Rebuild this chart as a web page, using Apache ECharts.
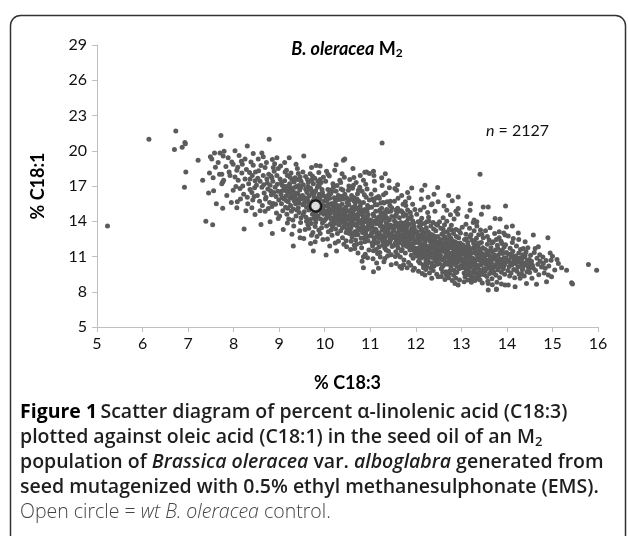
<!DOCTYPE html>
<html>
<head>
<meta charset="utf-8">
<script src="https://cdn.jsdelivr.net/npm/echarts@6/dist/echarts.min.js"></script>
<style>
  html, body { margin: 0; padding: 0; background: #fff; }
  #chart { width: 628px; height: 536px; }
</style>
</head>
<body>
<div id="chart"></div>
<script>
// % C18:3 (x) vs % C18:1 (y)
var stripLow = [
  [5.23,13.6],[6.14,20.97],[6.73,21.68],[6.70,20.1],[6.87,20.3],[6.93,20.7],[6.94,20.6],[6.95,18.2],[6.92,16.9],
  [7.22,19.2],[7.32,17.5],[7.47,18.1],[7.55,17.7],[7.56,16.6],[7.49,19.5],[7.52,19.3],[7.58,19.8],[7.66,19.0],
  [7.70,19.8],[7.79,19.95],[7.77,19.55],[7.83,18.65],[7.90,18.2],[7.69,18.0],[7.74,18.0],[7.76,17.35],[7.78,17.5],
  [7.74,17.2],[7.72,21.3],[7.39,14.0],[7.54,13.7],[7.76,15.1],[7.96,19.05],[7.99,18.85],[7.99,16.64],[7.62,15.5],
  [7.85,16.2],[7.92,17.9],[7.6,18.6],[7.88,19.4],[7.95,15.6],[7.45,16.4]
];
var strip8 = [
  [8.03,20.0],[8.30,20.4],[8.43,19.76],[8.25,19.3],[8.19,18.85],[8.43,18.76],[8.07,18.34],[8.03,17.77],[8.10,17.5],
  [8.25,17.6],[8.36,17.6],[8.14,16.78],[8.36,16.7],[8.08,15.65],[8.07,15.14],[8.4,15.14],[8.47,14.57],[8.23,13.33],
  [8.12,19.6],[8.18,18.1],[8.28,18.4],[8.33,17.2],[8.41,17.9],[8.05,16.95],[8.22,16.3],[8.45,16.1],[8.15,15.9],
  [8.31,15.5],[8.48,18.2],[8.38,19.05],[8.2,17.0],[8.46,16.85],[8.27,14.9],[8.42,15.8],[8.09,18.6],[8.35,18.15],
  [8.47,17.45],[8.17,19.1],[8.4,16.45],[8.3,16.05],
  [8.78,20.97],[8.62,19.8],[8.65,19.5],[8.54,19.3],[8.85,19.25],[8.69,18.57],[8.87,18.57],[8.65,17.9],[8.73,17.6],
  [8.84,17.7],[8.95,17.9],[8.5,17.06],[8.8,17.06],[8.6,13.72],[8.85,12.96],[8.69,14.86],[8.98,14.24],[8.8,13.95],
  [8.87,15.51],[8.76,15.08],[8.55,18.3],[8.58,17.4],[8.62,16.9],[8.67,16.4],[8.71,16.05],[8.74,17.25],[8.77,18.0],
  [8.81,16.6],[8.83,16.25],[8.86,17.4],[8.89,18.25],[8.91,16.9],[8.93,16.1],[8.96,17.15],[8.99,15.8],[8.52,16.2],
  [8.57,15.7],[8.63,15.35],[8.7,15.9],[8.75,16.75],[8.79,15.6],[8.84,15.25],[8.88,16.45],[8.92,15.45],[8.97,16.55],
  [8.6,18.75],[8.72,19.0],[8.9,18.9],[8.95,19.4],[8.53,17.65],[8.66,17.1],[8.82,17.85],[8.94,14.7],[8.58,14.9],[8.98,18.5]
];
var strip9 = [
  [9.22,19.4],[9.16,18.34],[9.13,18.2],[9.42,18.06],[9.46,17.77],[9.13,16.78],[9.35,16.9],[9.31,11.9],[9.46,12.59],
  [9.02,17.6],[9.04,16.3],[9.05,15.5],[9.07,17.05],[9.08,14.9],[9.1,16.7],[9.11,15.9],[9.12,17.45],[9.14,15.2],
  [9.15,16.15],[9.17,14.6],[9.18,17.9],[9.19,16.45],[9.2,15.65],[9.21,14.2],[9.23,17.2],[9.24,16.0],[9.25,15.35],
  [9.26,16.85],[9.27,14.85],[9.28,17.55],[9.29,15.95],[9.3,16.55],[9.31,15.05],[9.32,13.6],[9.33,17.35],[9.34,16.2],
  [9.36,15.5],[9.37,14.45],[9.38,16.95],[9.39,15.8],[9.4,18.5],[9.41,16.35],[9.42,15.15],[9.43,17.05],[9.44,14.75],
  [9.45,16.65],[9.46,15.9],[9.47,13.9],[9.48,17.4],[9.49,16.1],[9.03,18.7],[9.09,13.3],[9.16,15.75],[9.22,16.6],
  [9.26,18.1],[9.3,14.1],[9.35,17.7],[9.39,14.95],[9.44,15.55],[9.06,16.0],[9.13,16.95],[9.19,15.1],[9.24,17.75],
  [9.33,15.75],[9.41,17.55],[9.48,14.3],[9.12,19.0],[9.37,18.85],[9.28,12.9],[9.45,13.2],[9.01,14.45],[9.18,13.85],
  [9.36,16.4],[9.47,16.85],[9.21,16.95],[9.05,17.3],
  [9.54,19.55],[9.71,18.57],[9.81,18.74],[9.9,18.7],[9.71,17.5],[9.9,17.55],[9.6,16.64],[9.86,17.06],[9.54,12.53],
  [9.71,12.81],[9.79,12.25],[9.75,11.46],[9.51,16.2],[9.52,15.4],[9.53,17.1],[9.55,14.8],[9.56,16.0],[9.57,15.65],
  [9.58,17.8],[9.59,14.35],[9.6,15.2],[9.61,16.45],[9.62,15.85],[9.63,13.7],[9.64,17.3],[9.65,14.95],[9.66,16.15],
  [9.67,15.45],[9.68,14.15],[9.69,16.8],[9.7,15.05],[9.72,16.35],[9.73,14.6],[9.74,15.75],[9.75,17.2],[9.76,14.25],
  [9.77,16.05],[9.78,15.35],[9.79,13.55],[9.8,16.6],[9.82,14.85],[9.83,15.95],[9.84,16.9],[9.85,14.45],[9.86,15.6],
  [9.87,13.25],[9.88,16.3],[9.89,14.95],[9.9,15.85],[9.91,14.2],[9.92,17.3],[9.93,15.4],[9.94,16.7],[9.95,13.85],
  [9.96,15.1],[9.97,16.2],[9.98,14.6],[9.99,15.7],[9.52,18.2],[9.57,13.3],[9.63,16.95],[9.68,18.05],[9.74,13.05],
  [9.78,17.65],[9.83,12.7],[9.87,18.15],[9.93,13.45],[9.97,17.75],[9.55,15.9],[9.6,14.0],[9.66,15.6],[9.71,16.6],
  [9.76,15.0],[9.81,14.15],[9.85,17.4],[9.9,12.95],[9.95,16.45],[9.99,14.05],[9.53,14.55],[9.62,17.55],[9.7,13.8],
  [9.77,16.4],[9.84,15.25],[9.92,14.7],[9.58,16.75],[9.65,13.4],[9.73,17.85],[9.8,13.9],[9.88,17.0],[9.96,12.45],[9.69,12.1]
];
var strip10 = [
  [10.04,18.25],[10.25,18.8],[10.44,19.3],[10.41,19.2],[10.33,17.5],[10.12,16.64],[10.03,11.12],[10.26,11.46],[10.48,11.82],
  [10.01,15.3],[10.02,14.2],[10.03,16.1],[10.04,13.6],[10.05,15.75],[10.06,14.85],[10.07,16.7],[10.08,13.1],[10.09,15.05],
  [10.1,14.45],[10.11,15.95],[10.12,13.75],[10.13,16.35],[10.14,14.9],[10.15,15.5],[10.16,12.8],[10.17,14.25],[10.18,17.2],
  [10.19,15.2],[10.2,13.95],[10.21,16.0],[10.22,14.6],[10.23,15.65],[10.24,13.35],[10.25,16.55],[10.26,14.1],[10.27,15.35],
  [10.28,12.95],[10.29,14.75],[10.3,16.2],[10.31,13.7],[10.32,15.0],[10.33,14.35],[10.34,15.85],[10.35,13.2],[10.36,16.75],
  [10.37,14.6],[10.38,15.45],[10.39,12.6],[10.4,14.05],[10.41,15.9],[10.42,13.55],[10.43,14.95],[10.44,16.3],[10.45,13.9],
  [10.46,15.2],[10.47,12.35],[10.48,14.4],[10.49,15.6],[10.02,17.4],[10.06,12.5],[10.1,17.85],[10.14,13.25],[10.19,16.9],
  [10.23,12.15],[10.27,17.05],[10.31,14.55],[10.35,17.3],[10.39,13.45],[10.43,17.75],[10.47,13.05],[10.05,14.55],[10.09,16.3],
  [10.13,15.45],[10.17,13.55],[10.21,14.85],[10.25,15.1],[10.29,16.05],[10.33,13.85],[10.37,16.1],[10.41,14.3],[10.45,14.7],
  [10.49,13.3],[10.03,15.9],[10.08,15.4],[10.12,14.7],[10.16,16.55],[10.2,15.55],[10.24,14.4],[10.28,15.85],[10.32,14.15],
  [10.36,15.05],[10.4,16.65],[10.44,14.6],[10.48,16.0],[10.11,11.9],[10.3,12.3],[10.42,12.05],[10.07,18.0],[10.22,18.35],[10.38,18.05],
  [10.55,17.55],[10.64,17.72],[10.52,16.64],[10.63,17.06],[10.74,16.64],[10.88,18.17],[10.98,18.06],[10.92,18.2],[10.66,11.69],
  [10.85,10.04],[10.85,10.97],[10.51,14.9],[10.52,13.65],[10.53,15.4],[10.54,12.95],[10.55,14.3],[10.56,15.85],[10.57,13.4],
  [10.58,14.75],[10.59,16.2],[10.6,12.65],[10.61,14.05],[10.62,15.2],[10.63,13.7],[10.64,14.55],[10.65,16.0],[10.66,13.1],
  [10.67,15.55],[10.68,12.4],[10.69,14.2],[10.7,15.05],[10.71,13.55],[10.72,16.35],[10.73,12.85],[10.74,14.65],[10.75,15.7],
  [10.76,13.25],[10.77,14.0],[10.78,15.3],[10.79,12.15],[10.8,13.8],[10.81,14.95],[10.82,16.55],[10.83,13.05],[10.84,14.45],
  [10.85,15.6],[10.86,12.6],[10.87,13.95],[10.88,15.0],[10.89,14.3],[10.9,12.9],[10.91,16.05],[10.92,13.45],[10.93,14.8],
  [10.94,15.35],[10.95,12.35],[10.96,14.15],[10.97,13.6],[10.98,15.8],[10.99,12.75],[10.53,17.0],[10.57,11.6],[10.61,16.8],
  [10.65,11.95],[10.69,17.3],[10.73,11.3],[10.77,16.9],[10.81,11.75],[10.85,17.5],[10.89,11.2],[10.93,16.75],[10.97,11.55],
  [10.55,13.1],[10.59,15.05],[10.63,14.25],[10.67,12.85],[10.71,15.9],[10.75,14.05],[10.79,15.55],[10.83,14.7],[10.87,16.25],
  [10.91,13.2],[10.95,14.55],[10.99,13.95],[10.52,15.7],[10.56,14.55],[10.6,13.9],[10.64,15.75],[10.68,15.2],[10.72,13.85],
  [10.76,15.0],[10.8,12.55],[10.84,13.6],[10.88,12.25],[10.92,14.4],[10.96,15.15],[10.58,12.3],[10.7,12.05],[10.82,10.6],
  [10.94,10.9],[10.62,18.5],[10.78,17.9],[10.9,17.15]
];
var strip11 = [
  [11.26,20.66],[11.07,18.25],[11.08,17.9],[11.07,9.7],[11.18,9.99],[11.32,10.84],
  [11.01,14.1],[11.02,12.85],[11.03,15.2],[11.04,13.5],[11.05,11.9],[11.06,14.6],[11.07,13.15],[11.08,15.75],[11.09,12.4],
  [11.1,14.0],[11.11,13.35],[11.12,14.85],[11.13,11.6],[11.14,12.95],[11.15,15.4],[11.16,13.8],[11.17,12.2],[11.18,14.35],
  [11.19,13.0],[11.2,15.95],[11.21,11.35],[11.22,13.6],[11.23,14.7],[11.24,12.6],[11.25,15.1],[11.26,13.25],[11.27,11.95],
  [11.28,14.2],[11.29,12.75],[11.3,15.55],[11.31,13.45],[11.32,11.7],[11.33,14.5],[11.34,12.3],[11.35,13.9],[11.36,15.0],
  [11.37,12.05],[11.38,13.3],[11.39,14.8],[11.4,11.45],[11.41,12.9],[11.42,14.1],[11.43,15.35],[11.44,12.5],[11.45,13.65],
  [11.46,11.15],[11.47,14.4],[11.48,12.8],[11.49,13.55],[11.02,16.3],[11.06,10.8],[11.1,16.65],[11.14,10.45],[11.18,16.1],
  [11.22,10.95],[11.26,17.05],[11.3,10.55],[11.34,16.4],[11.38,11.05],[11.42,16.85],[11.46,10.3],[11.04,12.15],[11.08,14.45],
  [11.12,13.8],[11.16,11.25],[11.2,12.55],[11.24,13.95],[11.28,15.6],[11.32,12.45],[11.36,14.3],[11.4,13.7],[11.44,15.7],
  [11.48,11.85],[11.03,13.0],[11.07,11.5],[11.11,15.4],[11.15,14.15],[11.19,11.8],[11.23,15.55],[11.27,12.35],[11.31,14.75],
  [11.35,11.55],[11.39,13.1],[11.43,12.2],[11.47,15.15],[11.05,15.9],[11.13,16.0],[11.21,14.95],[11.29,16.25],[11.37,15.65],
  [11.45,14.85],[11.09,17.4],[11.25,17.7],[11.41,17.45],[11.33,18.05],
  [11.54,16.78],[11.58,16.64],[11.91,16.84],[11.69,9.99],[11.94,9.84],
  [11.51,13.2],[11.52,11.95],[11.53,14.05],[11.54,12.6],[11.55,13.7],[11.56,11.4],[11.57,14.6],[11.58,12.3],[11.59,13.0],
  [11.6,15.1],[11.61,11.75],[11.62,13.45],[11.63,12.15],[11.64,14.3],[11.65,12.85],[11.66,10.95],[11.67,13.9],[11.68,12.45],
  [11.69,14.85],[11.7,11.6],[11.71,13.25],[11.72,12.0],[11.73,14.45],[11.74,10.7],[11.75,12.7],[11.76,13.6],[11.77,11.3],
  [11.78,15.35],[11.79,12.25],[11.8,13.95],[11.81,11.85],[11.82,13.1],[11.83,14.2],[11.84,10.5],[11.85,12.55],[11.86,13.75],
  [11.87,11.55],[11.88,14.75],[11.89,12.9],[11.9,11.1],[11.91,13.4],[11.92,12.05],[11.93,14.05],[11.94,10.85],[11.95,12.6],
  [11.96,13.55],[11.97,11.45],[11.98,15.0],[11.99,12.3],[11.53,15.7],[11.57,10.4],[11.61,15.95],[11.65,10.15],[11.69,16.2],
  [11.73,10.3],[11.77,15.65],[11.81,10.05],[11.85,16.0],[11.89,10.25],[11.93,15.45],[11.97,10.0],[11.52,12.75],[11.56,14.95],
  [11.6,11.15],[11.64,13.75],[11.68,11.5],[11.72,14.7],[11.76,12.4],[11.8,13.5],[11.84,11.95],[11.88,13.15],[11.92,12.85],
  [11.96,11.75],[11.55,11.0],[11.59,12.05],[11.63,13.2],[11.67,14.9],[11.71,12.6],[11.75,11.95],[11.79,14.55],[11.83,12.7],
  [11.87,14.3],[11.91,11.7],[11.95,13.85],[11.99,11.25],[11.54,14.4],[11.62,14.85],[11.7,13.55],[11.78,13.2],[11.86,12.2],
  [11.94,13.15],[11.58,13.85],[11.66,12.55],[11.74,13.0],[11.82,14.95],[11.9,14.4],[11.98,12.95],[11.6,17.1],[11.82,16.45],[11.72,15.45]
];
var strip12 = [
  [12.2,17.06],[12.13,16.64],[12.48,16.87],[12.2,9.42],[12.35,9.14],[12.49,9.27],[12.49,15.65],
  [12.01,12.2],[12.02,11.05],[12.03,13.1],[12.04,11.7],[12.05,12.65],[12.06,10.6],[12.07,13.55],[12.08,11.3],[12.09,12.1],
  [12.1,14.0],[12.11,10.85],[12.12,12.45],[12.13,11.5],[12.14,13.3],[12.15,12.0],[12.16,10.3],[12.17,12.8],[12.18,11.55],
  [12.19,13.8],[12.2,10.95],[12.21,12.35],[12.22,11.2],[12.23,13.45],[12.24,10.15],[12.25,11.85],[12.26,12.7],[12.27,10.7],
  [12.28,14.35],[12.29,11.4],[12.3,12.95],[12.31,11.0],[12.32,12.25],[12.33,13.6],[12.34,10.45],[12.35,11.75],[12.36,12.85],
  [12.37,10.9],[12.38,13.9],[12.39,12.05],[12.4,10.2],[12.41,11.6],[12.42,12.55],[12.43,11.15],[12.44,13.2],[12.45,10.55],
  [12.46,12.0],[12.47,11.35],[12.48,13.65],[12.49,10.8],[12.02,14.6],[12.06,9.75],[12.1,14.95],[12.14,9.55],[12.18,15.2],
  [12.22,9.9],[12.26,14.75],[12.3,9.6],[12.34,15.4],[12.38,9.8],[12.42,14.85],[12.46,9.5],[12.03,11.45],[12.07,12.45],
  [12.11,13.7],[12.15,11.1],[12.19,12.6],[12.23,10.55],[12.27,13.1],[12.31,12.6],[12.35,11.2],[12.39,13.35],[12.43,12.3],
  [12.47,10.35],[12.04,12.9],[12.08,10.95],[12.12,13.25],[12.16,11.75],[12.2,12.15],[12.24,13.95],[12.28,11.0],[12.32,11.9],
  [12.36,10.25],[12.4,12.75],[12.44,11.5],[12.48,12.2],[12.05,13.95],[12.13,14.25],[12.21,13.05],[12.29,14.0],[12.37,12.3],
  [12.45,13.75],[12.09,10.45],[12.17,10.05],[12.25,10.4],[12.33,10.0],[12.41,10.9],[12.49,11.95],[12.12,15.9],[12.27,16.05],
  [12.4,16.3],[12.36,15.5],
  [12.68,9.42],[12.86,8.71],[12.93,8.57],[12.93,16.07],[12.93,15.09],[12.68,14.94],
  [12.51,11.6],[12.52,10.4],[12.53,12.45],[12.54,11.1],[12.55,12.0],[12.56,9.95],[12.57,12.9],[12.58,10.75],[12.59,11.5],
  [12.6,13.35],[12.61,10.25],[12.62,11.85],[12.63,10.9],[12.64,12.65],[12.65,11.35],[12.66,9.7],[12.67,12.2],[12.68,10.95],
  [12.69,13.1],[12.7,10.35],[12.71,11.75],[12.72,10.6],[12.73,12.85],[12.74,9.55],[12.75,11.25],[12.76,12.1],[12.77,10.15],
  [12.78,13.65],[12.79,10.8],[12.8,12.35],[12.81,10.45],[12.82,11.65],[12.83,12.95],[12.84,9.85],[12.85,11.15],[12.86,12.25],
  [12.87,10.3],[12.88,13.3],[12.89,11.45],[12.9,9.65],[12.91,11.0],[12.92,12.0],[12.93,10.55],[12.94,12.6],[12.95,9.95],
  [12.96,11.4],[12.97,10.75],[12.98,13.0],[12.99,10.2],[12.52,13.95],[12.56,9.3],[12.6,14.3],[12.64,9.05],[12.68,14.0],
  [12.72,9.2],[12.76,14.55],[12.8,8.95],[12.84,14.2],[12.88,9.15],[12.92,14.6],[12.96,9.0],[12.53,10.85],[12.57,11.85],
  [12.61,13.05],[12.65,10.5],[12.69,12.0],[12.73,11.3],[12.77,12.55],[12.81,11.95],[12.85,10.6],[12.89,12.7],[12.93,11.7],
  [12.97,12.15],[12.54,12.3],[12.58,10.1],[12.62,12.55],[12.66,11.05],[12.7,11.55],[12.74,13.35],[12.78,10.4],[12.82,11.3],
  [12.86,9.6],[12.9,12.15],[12.94,10.9],[12.98,11.85],[12.55,13.4],[12.63,13.7],[12.71,12.45],[12.79,13.25],[12.87,11.75],
  [12.95,13.2],[12.59,9.65],[12.67,9.45],[12.75,9.8],[12.83,9.4],[12.91,10.15],[12.99,11.5],[12.62,15.3],[12.8,15.75],
  [12.72,16.2],[12.88,14.85]
];
var strip13 = [
  [13.08,9.27],[13.41,8.99],[13.22,9.14],[13.19,14.94],[13.48,15.22],[13.34,13.95],[13.41,18.0],
  [13.01,11.2],[13.02,10.05],[13.03,12.0],[13.04,10.7],[13.05,11.55],[13.06,9.6],[13.07,12.45],[13.08,10.35],[13.09,11.1],
  [13.1,12.9],[13.11,9.9],[13.12,11.4],[13.13,10.55],[13.14,12.2],[13.15,10.95],[13.16,9.45],[13.17,11.75],[13.18,10.6],
  [13.19,12.65],[13.2,10.1],[13.21,11.3],[13.22,10.35],[13.23,12.4],[13.24,9.3],[13.25,10.85],[13.26,11.7],[13.27,9.85],
  [13.28,13.2],[13.29,10.5],[13.3,11.9],[13.31,10.15],[13.32,11.25],[13.33,12.55],[13.34,9.55],[13.35,10.8],[13.36,11.85],
  [13.37,10.0],[13.38,12.85],[13.39,11.05],[13.4,9.4],[13.41,10.65],[13.42,11.6],[13.43,10.3],[13.44,12.2],[13.45,9.7],
  [13.46,11.0],[13.47,10.45],[13.48,12.6],[13.49,9.95],[13.02,13.5],[13.06,8.85],[13.1,13.75],[13.14,9.0],[13.18,13.4],
  [13.22,8.8],[13.26,13.9],[13.3,8.95],[13.34,13.6],[13.38,9.1],[13.42,13.25],[13.46,8.75],[13.03,10.45],[13.07,11.35],
  [13.11,12.5],[13.15,10.2],[13.19,11.6],[13.23,10.9],[13.27,12.1],[13.31,11.55],[13.35,10.25],[13.39,12.15],[13.43,11.3],
  [13.47,11.75],[13.05,11.9],[13.13,11.65],[13.21,12.85],[13.29,12.3],[13.37,12.0],[13.45,12.9],[13.09,9.5],[13.17,9.75],
  [13.25,9.6],[13.33,9.25],[13.41,9.8],[13.49,10.85],[13.12,14.4],[13.28,14.1],[13.44,14.6],[13.2,15.5],
  [13.59,8.14],[13.77,8.2],[13.96,8.57],[13.59,8.71],[13.59,15.22],[13.74,14.24],[13.99,13.52],[13.97,15.3],[13.85,14.2],
  [13.96,12.82],[13.77,8.23],[13.51,10.9],[13.52,9.75],[13.53,11.6],[13.54,10.35],[13.55,11.2],[13.56,9.3],[13.57,12.05],
  [13.58,10.05],[13.6,10.7],[13.61,12.4],[13.62,9.55],[13.63,11.05],[13.64,10.2],[13.65,11.75],[13.66,10.55],[13.67,9.1],
  [13.68,11.4],[13.69,10.0],[13.7,12.25],[13.71,9.7],[13.72,10.85],[13.73,10.25],[13.75,11.55],[13.76,9.4],[13.78,10.6],
  [13.79,11.95],[13.8,9.85],[13.81,11.1],[13.82,10.4],[13.83,12.6],[13.84,9.2],[13.86,10.75],[13.87,11.5],[13.88,9.65],
  [13.89,12.1],[13.9,10.3],[13.91,11.25],[13.92,9.95],[13.93,10.85],[13.94,11.8],[13.95,9.5],[13.98,10.55],[13.99,11.35],
  [13.53,13.2],[13.58,8.9],[13.63,13.45],[13.68,8.6],[13.73,12.95],[13.78,8.8],[13.83,13.1],[13.88,8.65],[13.93,13.0],
  [13.55,10.5],[13.6,11.45],[13.65,9.85],[13.7,10.95],[13.75,10.15],[13.8,11.7],[13.85,10.1],[13.9,11.55],[13.95,10.7],
  [13.57,12.7],[13.67,12.15],[13.77,12.45],[13.87,12.3],[13.97,12.0]
];
var stripHigh = [
  [14.12,13.6],[14.25,13.0],[14.4,12.25],[14.36,11.69],[14.14,12.53],[14.47,10.12],[14.4,11.12],[14.32,9.56],[14.29,9.14],
  [14.43,8.71],[14.18,8.42],[14.03,8.57],[14.01,10.6],[14.02,9.8],[14.04,11.2],[14.05,10.15],[14.06,9.35],[14.07,11.7],
  [14.08,10.45],[14.09,9.6],[14.1,10.95],[14.11,10.3],[14.13,11.45],[14.15,9.9],[14.16,10.7],[14.17,9.2],[14.19,11.05],
  [14.2,10.4],[14.21,11.9],[14.22,9.75],[14.23,10.85],[14.24,10.1],[14.26,11.3],[14.27,9.5],[14.28,10.55],[14.3,11.6],
  [14.31,10.25],[14.33,10.8],[14.34,9.9],[14.35,11.15],[14.37,10.45],[14.38,9.35],[14.39,10.95],[14.41,10.3],[14.42,11.4],
  [14.44,9.7],[14.45,10.65],[14.46,11.75],[14.48,9.95],[14.49,10.75],[14.12,12.2],[14.26,12.45],[14.03,12.75],
  [14.58,12.82],[14.9,12.59],[14.69,11.82],[14.62,11.69],[14.97,10.69],[14.8,10.41],[14.84,9.99],[14.91,9.42],[14.98,9.27],
  [14.87,8.85],[14.65,8.63],[14.58,9.99],[14.5,9.64],[14.73,10.6],[14.54,10.6],[14.52,11.1],[14.56,10.25],[14.6,11.35],
  [14.63,9.8],[14.66,10.85],[14.7,9.45],[14.72,11.15],[14.76,10.1],[14.79,10.95],[14.82,9.6],[14.86,10.65],[14.92,10.2],
  [14.95,11.3],[14.55,9.15],[14.68,10.35],
  [15.0,11.03],[15.13,10.41],[15.31,9.84],[15.42,8.76],[15.44,8.65],[15.79,10.32],[15.97,9.84],[15.05,9.85],[15.2,10.05],[15.1,10.75]
];
// extra points in the dark core of the band
var core = [
  [9.05,16.55],[9.15,16.6],[9.25,16.25],[9.35,15.95],[9.45,16.0],[9.55,15.55],[9.65,15.35],[9.75,15.55],[9.85,15.0],
  [9.95,14.9],[9.2,17.0],[9.4,15.6],[9.6,15.95],[9.8,14.55],[9.9,16.15],
  [10.06,14.35],[10.11,14.95],[10.17,15.05],[10.22,13.8],[10.27,14.5],[10.32,15.3],[10.37,13.95],[10.42,14.75],[10.47,14.1],
  [10.03,14.85],[10.14,14.15],[10.24,15.4],[10.34,14.65],[10.44,13.7],[10.54,14.2],[10.58,13.55],[10.63,14.9],[10.67,13.7],
  [10.72,14.35],[10.77,13.4],[10.82,14.1],[10.87,13.3],[10.92,14.0],[10.97,13.35],[10.56,13.85],[10.66,14.45],[10.76,14.6],
  [10.86,14.85],[10.96,13.75],[10.61,12.95],[10.71,13.15],[10.81,13.3],[10.91,12.6],
  [11.03,13.65],[11.08,12.6],[11.13,13.25],[11.17,14.05],[11.22,12.85],[11.27,13.55],[11.32,13.1],[11.37,12.75],[11.42,13.4],
  [11.47,12.95],[11.05,13.95],[11.15,12.65],[11.25,14.35],[11.35,13.6],[11.45,12.45],[11.52,13.45],[11.57,12.45],[11.62,12.9],
  [11.67,13.3],[11.72,12.35],[11.77,12.8],[11.82,12.45],[11.87,12.95],[11.92,12.5],[11.97,13.3],[11.55,12.15],[11.65,13.55],
  [11.75,13.85],[11.85,11.8],[11.95,12.1],[11.6,12.65],[11.7,12.85],[11.8,12.1],[11.9,13.0],[11.12,12.15],[11.33,12.0],
  [12.03,12.35],[12.08,11.75],[12.13,12.85],[12.18,12.05],[12.23,11.6],[12.28,12.5],[12.33,11.35],[12.38,12.15],[12.43,11.85],
  [12.48,12.7],[12.05,11.35],[12.15,13.05],[12.25,11.25],[12.35,12.55],[12.45,11.1],[12.1,12.6],[12.2,11.4],[12.3,11.75],
  [12.4,11.3],[12.53,11.25],[12.58,12.1],[12.63,11.6],[12.68,11.95],[12.73,11.05],[12.78,11.75],[12.83,11.35],[12.88,12.05],
  [12.93,11.2],[12.98,10.9],[12.55,11.75],[12.65,12.3],[12.75,11.85],[12.85,10.95],[12.95,11.5],[12.6,10.7],[12.7,10.95],
  [12.8,11.15],[12.9,10.85],[12.22,10.7],[12.42,10.65],
  [13.03,11.4],[13.08,10.8],[13.13,11.2],[13.18,11.05],[13.23,10.6],[13.28,11.35],[13.33,10.7],[13.38,11.4],[13.43,10.95],
  [13.48,11.2],[13.05,10.65],[13.15,11.9],[13.25,10.3],[13.35,11.1],[13.45,10.55],[13.53,10.6],[13.58,11.15],[13.63,10.45],
  [13.68,10.9],[13.73,11.1],[13.78,10.35],[13.83,10.75],[13.88,10.45],[13.93,10.2],[13.98,10.9],[13.55,9.95],[13.65,10.75],
  [13.75,10.8],[13.85,11.3],[13.95,10.35],[13.1,10.2],[13.3,9.75],[13.5,9.45],[13.7,9.6],
  [14.05,10.7],[14.15,10.45],[14.25,10.6],[14.35,10.05],[14.45,10.25],[14.1,11.2],[14.3,10.9],[14.5,10.4]
];
var wildType = [[9.8, 15.3]];
var xTicks = { min: 5, max: 16, step: 1 };
var yTicks = { min: 5, max: 29, step: 3 };
var sampleSize = 2127;

var mutants = stripLow.concat(strip8, strip9, strip10, strip11, strip12, strip13, stripHigh, core);

var chart = echarts.init(document.getElementById("chart"));
var font = "Lato";
var capFont = "'Open Sans'";

var option = {
  animation: false,
  textStyle: { fontFamily: font },
  title: {
    text: "{bi|B. oleracea} {b|M}{sub|2}",
    left: 342,
    top: 34,
    textAlign: "center",
    textStyle: {
      rich: {
        bi: { fontSize: 18, fontWeight: "bold", fontStyle: "italic", color: "#000", fontFamily: font },
        b: { fontSize: 18, fontWeight: "bold", color: "#000", fontFamily: font },
        sub: { fontSize: 12, fontWeight: "bold", color: "#000", fontFamily: font, padding: [8, 0, 0, 0] }
      }
    }
  },
  grid: { left: 97, right: 30, top: 45, bottom: 209 },
  xAxis: {
    type: "value",
    min: xTicks.min, max: xTicks.max, interval: xTicks.step,
    name: "% C18:3",
    nameLocation: "middle",
    nameGap: 47,
    nameTextStyle: { fontSize: 18, fontWeight: "bold", color: "#000" },
    axisLine: { show: true, lineStyle: { color: "#c0c0c0", width: 1 } },
    axisTick: { show: true, length: 5, lineStyle: { color: "#c0c0c0" } },
    axisLabel: { fontSize: 16, color: "#111", margin: 9 },
    splitLine: { show: false }
  },
  yAxis: {
    type: "value",
    min: yTicks.min, max: yTicks.max, interval: yTicks.step,
    name: "% C18:1",
    nameLocation: "middle",
    nameRotate: 90,
    nameGap: 50,
    nameTextStyle: { fontSize: 18, fontWeight: "bold", color: "#000" },
    axisLine: { show: true, lineStyle: { color: "#c0c0c0", width: 1 } },
    axisTick: { show: true, length: 5, lineStyle: { color: "#c0c0c0" } },
    axisLabel: { fontSize: 16, color: "#111", margin: 10 },
    splitLine: { show: false }
  },
  series: [
    {
      type: "scatter",
      data: mutants,
      symbolSize: 5,
      itemStyle: { color: "#5b5b5b", opacity: 1 },
      z: 2
    },
    {
      type: "scatter",
      data: wildType,
      symbolSize: 11,
      itemStyle: { color: "#fff", borderColor: "#000", borderWidth: 2.5 },
      z: 3
    }
  ],
  graphic: [
    {
      type: "rect",
      shape: { x: 10.5, y: 15.5, width: 615, height: 600, r: 10 },
      style: { fill: "none", stroke: "#333", lineWidth: 1.5 },
      silent: true
    },
    {
      type: "text",
      left: 486,
      top: 123,
      style: {
        text: "{i|n} = " + sampleSize,
        rich: { i: { fontStyle: "italic", fontSize: 16, fontFamily: font } },
        fontSize: 16,
        fontFamily: font,
        fill: "#111"
      }
    },
    {
      type: "text",
      left: 20,
      top: 400,
      style: {
        text: [
          "{fb|Figure 1} {b|Scatter diagram of percent α-linolenic acid (C18:3)}",
          "{b|plotted against oleic acid (C18:1) in the seed oil of an M}{bs|2}",
          "{b|population of }{bi|Brassica oleracea}{b| var. }{bi|alboglabra}{b| generated from}",
          "{b|seed mutagenized with 0.5% ethyl methanesulphonate (EMS).}",
          "{r|Open circle = }{ri|wt B. oleracea}{r| control.}"
        ].join("\n"),
        lineHeight: 25,
        rich: {
          fb: { fontFamily: capFont, fontSize: 19.5, fontWeight: "bold", fill: "#000", lineHeight: 25 },
          b: { fontFamily: capFont, fontSize: 19.5, fontWeight: 600, fill: "#1e1e1e", lineHeight: 25 },
          bs: { fontFamily: capFont, fontSize: 13, fontWeight: 600, fill: "#1e1e1e", lineHeight: 25, padding: [9, 0, 0, 0] },
          bi: { fontFamily: capFont, fontSize: 19.5, fontWeight: 600, fontStyle: "italic", fill: "#1e1e1e", lineHeight: 25 },
          r: { fontFamily: capFont, fontSize: 19.5, fontWeight: 300, fill: "#444", lineHeight: 25 },
          ri: { fontFamily: capFont, fontSize: 19.5, fontWeight: 300, fontStyle: "italic", fill: "#444", lineHeight: 25 }
        }
      }
    }
  ]
};
chart.setOption(option);
</script>
</body>
</html>
